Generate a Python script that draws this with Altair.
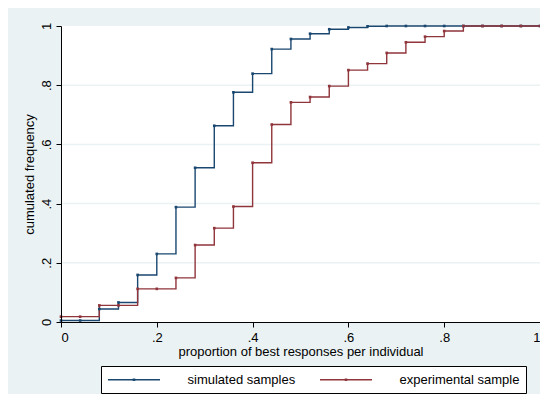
import altair as alt
import pandas as pd

x_vals = [0.00, 0.04, 0.08, 0.12, 0.16, 0.20, 0.24, 0.28, 0.32, 0.36, 0.40, 0.44, 0.48,
          0.52, 0.56, 0.60, 0.64, 0.68, 0.72, 0.76, 0.80, 0.84, 0.88, 0.92, 0.96, 1.00]
simulated = [0.005, 0.005, 0.044, 0.066, 0.159, 0.230, 0.388, 0.521, 0.663, 0.776, 0.839, 0.922, 0.956,
             0.974, 0.989, 0.995, 0.999, 1.0, 1.0, 1.0, 1.0, 1.0, 1.0, 1.0, 1.0, 1.0]
experimental = [0.018, 0.018, 0.056, 0.056, 0.112, 0.112, 0.149, 0.260, 0.317, 0.390, 0.538, 0.667, 0.742,
                0.760, 0.797, 0.851, 0.873, 0.909, 0.945, 0.964, 0.983, 1.0, 1.0, 1.0, 1.0, 1.0]
series_names = ["simulated samples", "experimental sample"]
series_colors = ["#1a476f", "#90353b"]
tick_values = [0, 0.2, 0.4, 0.6, 0.8, 1]
grid_values = [0.2, 0.4, 0.6, 0.8]

rows = []
for i, (name, vals) in enumerate(zip(series_names, [simulated, experimental])):
    for x, y in zip(x_vals, vals):
        rows.append({"x": x, "y": y, "series": name, "order": i})
df = pd.DataFrame(rows)
grid_df = pd.DataFrame({"y": grid_values})
one = pd.DataFrame({"a": [0]})

FONT = "Liberation Sans"
BG = "#eaf2f3"
W, H = 479, 296
PL, PT, PB = 53, 18, 72

label_expr = ("datum.value == 0 ? '0' : datum.value == 1 ? '1' : "
              "replace(format(datum.value, '.1f'), '0.', '.')")

xscale = alt.Scale(domain=[0, 1], nice=False)
yscale = alt.Scale(domain=[0, 1], nice=False)

# graph-region background and white plot region
outer = alt.Chart(one).mark_rect(color=BG, opacity=1).encode(
    x=alt.value(-PL), x2=alt.value(W), y=alt.value(-PT), y2=alt.value(H + PB))
inner = alt.Chart(one).mark_rect(color="white", opacity=1).encode(
    x=alt.value(0), x2=alt.value(W), y=alt.value(0), y2=alt.value(H))

grid = alt.Chart(grid_df).mark_rule(color=BG, strokeWidth=1.5).encode(
    y=alt.Y("y:Q", scale=yscale))

lines = alt.Chart(df).mark_line(
    interpolate="step-after", strokeWidth=1.4,
    point=alt.OverlayMarkDef(filled=True, size=7, shape="square")
).encode(
    x=alt.X("x:Q", scale=xscale,
            axis=alt.Axis(values=tick_values, labelExpr=label_expr,
                          title="proportion of best responses per individual",
                          grid=False, tickSize=5, labelPadding=4, titlePadding=1,
                          zindex=1)),
    y=alt.Y("y:Q", scale=yscale,
            axis=alt.Axis(values=tick_values, labelExpr=label_expr,
                          title="cumulated frequency", labelAngle=270,
                          labelAlign="center", labelBaseline="bottom",
                          tickSize=5, labelPadding=3, titlePadding=4,
                          grid=False, zindex=1)),
    color=alt.Color("series:N", sort=series_names,
                    scale=alt.Scale(domain=series_names, range=series_colors),
                    legend=alt.Legend(
                        title=None, orient="none", legendX=40, legendY=340,
                        direction="horizontal", columns=2,
                        symbolType="M-4,0L4,0M-0.1,-0.1h0.2v0.2h-0.2Z",
                        symbolSize=169, symbolStrokeWidth=1.3,
                        symbolOffset=19.5, labelOffset=46,
                        labelFontSize=13, labelFont=FONT, labelColor="black",
                        columnPadding=21, padding=6, zindex=1,
                        strokeColor="black", fillColor="white", cornerRadius=0)),
    order=alt.Order("order:Q"),
    detail="series:N",
)

chart = alt.layer(outer, inner, grid, lines).properties(
    width=W, height=H,
    autosize=alt.AutoSizeParams(type="none"),
    padding={"left": PL, "top": PT, "right": 0, "bottom": PB},
    background=BG,
).configure_view(
    fill=None, stroke=None
).configure_axis(
    domainColor="black", tickColor="black", domainWidth=1, tickWidth=1,
    labelFont=FONT, titleFont=FONT, labelFontSize=13, titleFontSize=13,
    labelColor="black", titleColor="black", titleFontWeight="normal"
)

chart.save("out.html", embed_options={"renderer": "svg", "actions": False})
